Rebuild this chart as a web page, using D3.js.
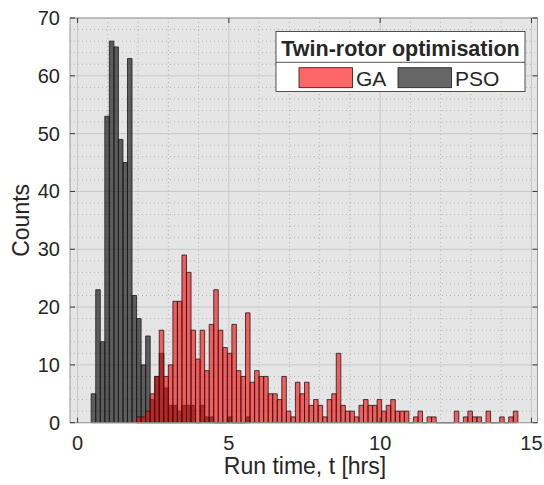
<!DOCTYPE html>
<html>
<head>
<meta charset="utf-8">
<script src="https://cdn.jsdelivr.net/npm/d3@7"></script>
<style>
  body { margin: 0; background: #fff; }
  text { font-family: "Liberation Sans", Arial, sans-serif; fill: #262626; }
</style>
</head>
<body>
<script>
// histogram bins: both series share the same edges
const binStart = 0.45;
const binWidth = 0.15;

// PSO counts from the first bin (t = 0.45)
const psoCounts = [5, 23, 14, 53, 66, 65, 49, 45, 63, 22, 18, 10, 15,
  4, 8, 12, 6, 3, 3, 2, 3, 3, 3, 0, 3, 1, 1, 0, 0, 0, 1, 0, 0, 0, 1];

// GA counts start at bin 10 (t = 1.95)
const gaFirstBin = 10;
const gaCounts = [1, 1, 2, 5, 8, 16, 8, 10, 21, 21, 29, 26, 16, 11, 16, 9, 17, 23, 16, 13,
  12, 17, 9, 8, 19, 7, 9, 8, 8, 5, 5, 4, 8, 2, 1, 7, 5, 7, 3, 4,
  3, 1, 4, 5, 12, 3, 2, 2, 1, 3, 4, 3, 3, 4, 2, 3, 4, 2, 2, 2,
  0, 1, 2, 0, 1, 1, 0, 0, 0, 0, 2, 0, 1, 2, 1, 1, 0, 2, 0, 0,
  1, 0, 1, 2];

const xTicks = [0, 5, 10, 15];
const yTicks = [0, 10, 20, 30, 40, 50, 60, 70];
const legendTitle = 'Twin-rotor optimisation';
const seriesNames = ['GA', 'PSO'];

const W = 544, H = 485;
const plot = { left: 70, right: 537.5, top: 18, bottom: 422.7 };

const svg = d3.select('body').append('svg')
  .attr('width', W).attr('height', H);

const x = d3.scaleLinear().domain([-0.25, 15.2]).range([plot.left, plot.right]);
const y = d3.scaleLinear().domain([0, 70]).range([plot.bottom, plot.top]);

// axes background
svg.append('rect')
  .attr('x', plot.left).attr('y', plot.top)
  .attr('width', plot.right - plot.left).attr('height', plot.bottom - plot.top)
  .attr('fill', '#e5e5e5');

// grid: minor dotted, major solid
const grid = svg.append('g');
const minorX = d3.range(0, 16).filter(v => !xTicks.includes(v));
const minorY = d3.range(0, 71, 2).filter(v => !yTicks.includes(v));
grid.selectAll('.mx').data(minorX).enter().append('line')
  .attr('x1', d => x(d)).attr('x2', d => x(d))
  .attr('y1', plot.top).attr('y2', plot.bottom)
  .attr('stroke', '#b4b4b4').attr('stroke-width', 1).attr('stroke-dasharray', '1,3');
grid.selectAll('.my').data(minorY).enter().append('line')
  .attr('x1', plot.left).attr('x2', plot.right)
  .attr('y1', d => y(d)).attr('y2', d => y(d))
  .attr('stroke', '#b4b4b4').attr('stroke-width', 1).attr('stroke-dasharray', '1,3');
grid.selectAll('.Mx').data(xTicks).enter().append('line')
  .attr('x1', d => x(d)).attr('x2', d => x(d))
  .attr('y1', plot.top).attr('y2', plot.bottom)
  .attr('stroke', '#c8c8c8').attr('stroke-width', 1);
grid.selectAll('.My').data(yTicks).enter().append('line')
  .attr('x1', plot.left).attr('x2', plot.right)
  .attr('y1', d => y(d)).attr('y2', d => y(d))
  .attr('stroke', '#c8c8c8').attr('stroke-width', 1);

// bars drawn as paths so empty bins still show a line on the baseline
function barPath(lo, hi, c) {
  return `M${x(lo)},${y(0)}V${y(c)}H${x(hi)}V${y(0)}Z`;
}
function drawHist(counts, firstBin, fill) {
  svg.append('g').selectAll('path').data(counts).enter().append('path')
    .attr('d', (c, i) => {
      const lo = binStart + (firstBin + i) * binWidth;
      return barPath(lo, lo + binWidth, c);
    })
    .attr('fill', fill).attr('fill-opacity', 0.6)
    .attr('stroke', '#1a1a1a').attr('stroke-width', 0.8);
}
drawHist(psoCounts, 0, '#000000');
drawHist(gaCounts, gaFirstBin, '#ff0000');

// box and ticks
svg.append('rect')
  .attr('x', plot.left).attr('y', plot.top)
  .attr('width', plot.right - plot.left).attr('height', plot.bottom - plot.top)
  .attr('fill', 'none').attr('stroke', '#9a9a9a').attr('stroke-width', 1);
const tl = 5;
const ticks = svg.append('g').attr('stroke', '#3a3a3a').attr('stroke-width', 1);
xTicks.forEach(v => {
  ticks.append('line').attr('x1', x(v)).attr('x2', x(v)).attr('y1', plot.bottom).attr('y2', plot.bottom - tl);
  ticks.append('line').attr('x1', x(v)).attr('x2', x(v)).attr('y1', plot.top).attr('y2', plot.top + tl);
});
yTicks.forEach(v => {
  ticks.append('line').attr('x1', plot.left).attr('x2', plot.left + tl).attr('y1', y(v)).attr('y2', y(v));
  ticks.append('line').attr('x1', plot.right).attr('x2', plot.right - tl).attr('y1', y(v)).attr('y2', y(v));
});

// tick labels
svg.selectAll('.xl').data(xTicks).enter().append('text')
  .attr('x', d => x(d)).attr('y', plot.bottom + 27)
  .attr('text-anchor', 'middle').style('font-size', '20px')
  .text(d => d);
svg.selectAll('.yl').data(yTicks).enter().append('text')
  .attr('x', plot.left - 10).attr('y', d => y(d) + 7)
  .attr('text-anchor', 'end').style('font-size', '20px')
  .text(d => d);

// axis labels
svg.append('text')
  .attr('x', 305).attr('y', 474)
  .attr('text-anchor', 'middle').style('font-size', '23px')
  .text('Run time, t [hrs]');
svg.append('text')
  .attr('transform', `translate(29, ${(plot.top + plot.bottom) / 2}) rotate(-90)`)
  .attr('text-anchor', 'middle').style('font-size', '23px')
  .text('Counts');

// legend
const lg = svg.append('g').attr('transform', 'translate(276, 31.5)');
lg.append('rect').attr('width', 249).attr('height', 60)
  .attr('fill', '#fff').attr('stroke', '#262626').attr('stroke-width', 0.8);
lg.append('line').attr('x1', 0).attr('x2', 249).attr('y1', 30.8).attr('y2', 30.8)
  .attr('stroke', '#262626').attr('stroke-width', 0.8);
lg.append('text').attr('x', 124.5).attr('y', 24)
  .attr('text-anchor', 'middle').style('font-size', '21.5px').style('font-weight', 'bold')
  .attr('fill', '#000').text(legendTitle);
const legendColors = ['#ff0000', '#000000'];
const legendX = [23, 122];
seriesNames.forEach((name, i) => {
  lg.append('rect').attr('x', legendX[i]).attr('y', 36.2).attr('width', 53.5).attr('height', 20)
    .attr('fill', legendColors[i]).attr('fill-opacity', 0.6)
    .attr('stroke', '#1a1a1a').attr('stroke-width', 0.8);
  lg.append('text').attr('x', legendX[i] + 57).attr('y', 54.5)
    .style('font-size', '21px').attr('fill', '#000').text(name);
});
</script>
</body>
</html>
